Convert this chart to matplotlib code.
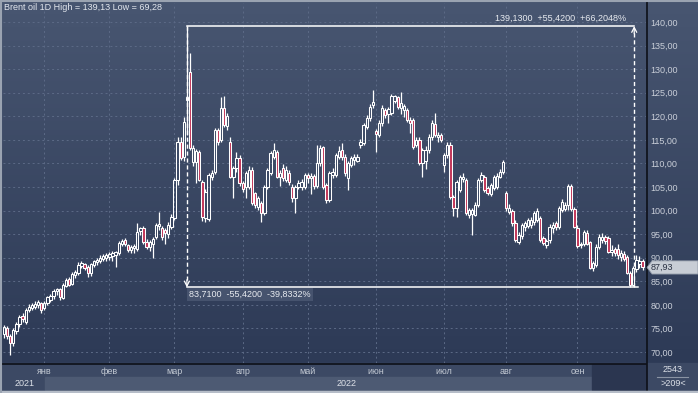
import numpy as np
import matplotlib
matplotlib.use("Agg")
import matplotlib.pyplot as plt
from matplotlib.patches import Rectangle, Polygon
from matplotlib.colors import LinearSegmentedColormap
from matplotlib import transforms

# daily candles, mid Dec 2021 .. end Sep 2022
opens = [
    73.8, 75.1, 73.3, 71.9, 74.4, 75.9, 77.6, 76.4, 78.8, 79.3, 79.6, 79.9, 80.3,
    79.3, 80.3, 81.0, 81.8, 82.9, 83.3, 81.5, 84.1, 85.5, 84.5, 86.4, 86.8, 88.3,
    88.6, 88.0, 86.8, 88.5, 89.1, 89.4, 89.8, 90.0,
    90.2, 90.3, 90.6, 91.0, 93.0, 93.7, 92.6, 91.6, 92.0, 91.8, 95.6, 96.3, 93.4,
    92.2, 92.9, 94.3, 96.8, 96.3, 95.9, 95.0, 96.6,
    98.4, 106.5, 114.5, 111.4, 123.5, 129.4, 110.2, 110.3, 112.4, 106.0, 98.4,
    98.2, 107.1, 108.2, 117.0, 115.0, 121.8, 118.0, 114.5, 107.2, 109.0, 111.2,
    105.8, 105.0, 105.0, 108.6, 103.7, 100.8, 101.6, 99.5, 105.0, 108.0, 111.4,
    112.4, 107.1, 109.0, 106.5, 108.0, 105.0, 102.7, 105.0, 105.0, 105.0,
    107.5, 106.8, 107.4, 105.2, 110.0, 113.4, 105.4, 102.3, 107.6, 107.6, 111.4,
    112.8, 111.4, 106.9, 109.7, 110.7, 110.6, 113.9, 114.3, 117.7, 119.6, 122.4,
    116.8, 116.0, 118.6, 121.3, 120.5, 120.7, 123.3, 124.0, 121.8, 121.3, 121.3,
    119.2, 119.2, 114.0, 115.0, 110.0, 110.5, 112.8, 115.6, 118.4, 115.6, 116.0,
    109.7, 111.8, 113.9, 102.9, 100.5, 104.4, 106.6, 106.5, 99.1, 99.2, 99.1,
    101.2, 106.5, 107.1, 104.8, 103.6, 104.8, 105.0, 107.2, 108.2,
    103.7, 99.7, 99.8, 97.3, 93.4, 94.5, 96.6, 96.8, 97.0, 97.6, 98.0, 98.4,
    94.1, 92.7, 93.8, 96.3, 97.3, 96.6, 100.1, 100.3, 101.2, 105.3, 100.4,
    96.3, 92.6, 93.0, 95.3, 93.3, 87.9, 88.5, 92.3, 93.8, 94.4, 94.2, 91.2,
    91.8, 91.9, 90.2, 90.8, 90.1, 86.8, 84.2, 87.6, 88.6, 89.2,
]
highs = [
    75.8, 75.6, 73.9, 75.0, 76.4, 77.8, 78.2, 79.4, 80.1, 80.4, 80.8, 81.0, 80.7,
    80.8, 81.9, 82.4, 83.4, 83.6, 83.5, 84.6, 85.6, 85.9, 86.9, 87.3, 89.0, 89.2,
    88.9, 88.4, 88.9, 89.6, 89.9, 90.6, 90.8, 91.0,
    91.2, 91.4, 91.5, 93.6, 94.0, 94.1, 93.0, 92.6, 92.9, 97.4, 96.6, 96.7, 93.9,
    93.8, 94.4, 97.4, 99.7, 96.8, 96.4, 97.6, 99.2,
    107.0, 115.5, 115.5, 119.9, 139.13, 133.4, 114.0, 113.0, 112.8, 106.5, 104.5,
    107.9, 108.5, 117.5, 117.5, 124.0, 124.2, 120.8, 115.5, 109.5, 112.5, 111.8,
    106.3, 108.3, 109.5, 109.2, 104.0, 103.0, 102.0, 105.5, 109.0, 112.6, 114.3,
    112.8, 108.7, 109.8, 109.4, 108.7, 105.6, 105.4, 106.4, 106.7, 108.0,
    108.0, 107.9, 107.8, 113.9, 113.9, 113.8, 105.8, 108.4, 109.0, 112.2, 113.6,
    114.3, 112.0, 110.5, 111.6, 112.0, 112.0, 115.2, 118.6, 120.2, 122.5, 125.6,
    117.3, 119.2, 122.3, 121.8, 122.0, 124.8, 124.6, 124.4, 125.2, 122.6, 121.8,
    119.8, 119.6, 115.5, 115.5, 113.2, 113.6, 116.2, 119.2, 120.7, 116.6, 116.4,
    112.2, 114.5, 114.5, 103.4, 106.4, 107.6, 108.0, 107.0, 100.6, 100.5, 101.8,
    107.0, 108.2, 107.6, 105.2, 105.8, 107.6, 107.9, 108.8, 110.8,
    104.1, 101.3, 100.3, 97.9, 95.4, 97.4, 97.8, 98.4, 98.6, 99.9, 100.6, 98.9,
    94.6, 94.0, 97.2, 97.6, 97.8, 101.0, 102.4, 101.8, 105.6, 105.6, 100.8,
    96.9, 93.4, 95.9, 95.8, 93.6, 89.4, 92.8, 95.0, 95.3, 94.9, 94.6, 92.6,
    92.3, 92.9, 91.6, 91.4, 90.6, 87.2, 88.2, 90.5, 90.3, 89.8,
]
lows = [
    73.0, 72.8, 69.28, 71.2, 73.8, 75.4, 76.4, 76.0, 78.4, 78.9, 79.2, 79.4, 78.2,
    78.9, 79.9, 80.6, 81.3, 82.0, 81.0, 81.2, 83.8, 84.0, 84.2, 85.6, 86.4, 87.9,
    87.4, 85.8, 86.2, 88.1, 88.5, 88.8, 89.2, 89.3,
    89.6, 89.4, 88.0, 90.5, 92.4, 92.5, 91.2, 90.9, 91.0, 91.5, 94.8, 93.0, 91.9,
    91.5, 90.0, 94.0, 95.8, 93.8, 92.8, 94.2, 96.0,
    98.0, 105.5, 110.8, 110.5, 116.0, 112.8, 109.5, 105.8, 106.2, 97.8, 97.5,
    97.8, 106.5, 107.8, 114.0, 114.5, 117.8, 117.0, 106.8, 102.7, 108.2, 105.3,
    104.0, 102.6, 104.6, 101.2, 100.5, 100.2, 97.6, 99.0, 104.6, 107.6, 111.0,
    106.8, 105.2, 106.2, 106.0, 105.4, 101.8, 99.5, 104.5, 104.3, 104.6,
    105.8, 103.5, 104.6, 104.8, 109.5, 104.6, 101.6, 101.9, 106.8, 107.2, 111.0,
    110.8, 107.4, 104.4, 109.2, 109.6, 110.2, 113.3, 113.9, 117.2, 119.0, 121.8,
    112.4, 115.5, 118.0, 119.6, 118.5, 120.3, 122.8, 121.5, 120.5, 119.8, 118.8,
    116.5, 113.0, 113.4, 109.6, 107.1, 108.8, 112.3, 115.0, 115.5, 114.6, 114.5,
    108.2, 111.2, 102.4, 98.8, 98.7, 104.0, 106.1, 99.0, 98.4, 94.8, 98.8,
    100.8, 106.0, 103.9, 103.2, 103.0, 104.3, 104.5, 106.8, 107.8,
    99.8, 99.2, 96.8, 93.3, 92.8, 94.0, 95.6, 96.3, 96.4, 97.0, 97.5, 93.3,
    92.6, 92.0, 93.2, 95.2, 95.8, 96.0, 99.6, 99.8, 100.2, 99.8, 96.2,
    92.0, 92.1, 92.4, 92.6, 87.6, 87.2, 88.0, 91.8, 93.2, 92.9, 90.9, 90.4,
    90.4, 89.7, 89.4, 89.3, 86.5, 83.71, 83.9, 87.0, 87.8, 87.4,
]
closes = [
    75.2, 73.3, 71.9, 74.6, 76.0, 77.4, 76.9, 79.0, 79.6, 79.9, 80.2, 80.5, 79.0,
    80.4, 81.6, 81.9, 83.0, 83.3, 81.6, 84.2, 85.3, 84.3, 86.6, 86.9, 88.5, 88.9,
    87.8, 86.8, 88.6, 89.3, 89.6, 90.0, 90.3, 90.5,
    90.8, 91.0, 91.2, 93.2, 93.5, 92.8, 91.6, 92.2, 92.5, 95.5, 96.2, 93.3, 92.2,
    93.4, 94.0, 97.0, 97.2, 94.3, 95.2, 97.0, 98.6,
    106.5, 114.5, 111.2, 118.8, 124.0, 113.3, 113.2, 112.6, 106.5, 98.6, 104.0,
    107.5, 108.0, 117.0, 114.5, 121.8, 118.2, 120.0, 107.2, 109.0, 111.2, 105.8,
    104.6, 108.0, 108.6, 101.6, 101.2, 102.7, 99.5, 105.0, 108.6, 112.2, 112.8,
    107.1, 108.0, 107.0, 108.6, 106.0, 102.7, 105.0, 105.8, 106.0, 107.5,
    106.8, 107.3, 105.2, 110.0, 113.3, 105.0, 102.2, 108.0, 108.1, 111.8, 112.6,
    111.4, 107.9, 110.0, 111.1, 111.4, 111.3, 114.6, 118.2, 119.6, 122.0, 123.1,
    116.3, 118.6, 121.8, 120.3, 121.6, 124.2, 124.2, 122.0, 122.8, 122.2, 119.2,
    118.5, 113.5, 115.0, 110.0, 112.8, 112.8, 115.6, 118.6, 116.0, 116.0, 115.0,
    111.8, 113.9, 102.9, 100.5, 106.1, 107.2, 107.2, 99.4, 100.1, 100.1, 101.2,
    106.5, 107.5, 104.4, 103.7, 105.4, 107.1, 107.4, 108.2, 110.3,
    100.5, 100.5, 97.3, 93.8, 94.8, 96.9, 97.3, 98.0, 98.0, 99.4, 99.8, 93.8,
    93.1, 93.6, 96.6, 97.0, 96.5, 100.5, 101.9, 101.2, 105.2, 100.3, 96.5,
    92.4, 93.0, 95.5, 93.0, 87.8, 88.9, 92.3, 94.4, 94.4, 93.5, 91.3, 91.7,
    91.0, 90.5, 90.9, 89.8, 86.8, 84.2, 87.8, 89.5, 89.3, 87.93,
]

month_starts = [13, 34, 55, 77, 98, 120, 142, 162, 185]
month_labels = ["янв", "фев", "мар", "апр", "май", "июн", "июл", "авг", "сен"]
price_ticks = [70, 75, 80, 85, 90, 95, 100, 105, 110, 115, 120, 125, 130, 135, 140]
bars_total = 2543
bars_visible = 209

# measurement tool drawn on the chart (from the Mar high to the Sep low)
range_high = 139.13
range_low = 83.71
range_left = 59
range_right = 203.3

W, H = 698, 393


def px_box(x0, y0, x1, y1):
    # pixel box, origin top-left -> figure fraction rect
    return [x0 / W, 1 - y1 / H, (x1 - x0) / W, (y1 - y0) / H]


def fmt(v, nd=2):
    return f"{v:.{nd}f}".replace(".", ",")


plt.rcParams["font.family"] = ["Liberation Sans", "DejaVu Sans"]
fig = plt.figure(figsize=(W / 100, H / 100), dpi=100)
fig.patch.set_facecolor("#3b4863")

# background: gradient panel + bottom time band
bg = fig.add_axes([0, 0, 1, 1])
bg.axis("off")
cmap = LinearSegmentedColormap.from_list("panel", ["#485671", "#2d3a56"])
grad = np.linspace(0, 1, 256).reshape(-1, 1)
bg.imshow(grad, cmap=cmap, aspect="auto", extent=(0, W, 363, 0))
bg.set_xlim(0, W)
bg.set_ylim(H, 0)
bg.add_patch(Rectangle((0, 363), W, 30, color="#3c4964"))
bg.add_patch(Rectangle((45, 377), 547, 13, color="#4d5a73"))
bg.add_patch(Rectangle((592, 364), 54, 26, color="#2b3650"))
bg.plot([0, 646], [363.5, 363.5], color="#0d1018", lw=1.2)
bg.plot([646.5, 646.5], [0, 391], color="#0d1018", lw=1.2)
bg.plot([657, 688], [377, 377], color="#8b94a4", lw=0.8)
bg.plot([0, W], [392, 392], color="#b6bdc8", lw=2.5)
bg.plot([0, W], [0.5, 0.5], color="#9aa3b1", lw=1.5)
bg.plot([0.5, 0.5], [0, H], color="#9aa3b1", lw=1.5)

ax = fig.add_axes(px_box(3, 3, 646, 363))
ax.set_facecolor("none")
for s in ax.spines.values():
    s.set_visible(False)

ax.set_xlim(-0.32, 207.1)
ax.set_ylim(67.66, 144.03)
ax.set_xticks(month_starts)
ax.set_xticklabels([])
ax.set_yticks(price_ticks)
ax.set_yticklabels([fmt(p) for p in price_ticks], color="#c9ced8", fontsize=6.5)
ax.yaxis.tick_right()
ax.tick_params(length=0)
ax.tick_params(axis="y", pad=3)
ax.grid(True, color="#5c6a86", linestyle=(0, (2, 3)), linewidth=0.7)
ax.set_axisbelow(True)

# candles
x = np.arange(len(closes))
o = np.array(opens)
c = np.array(closes)
hi = np.array(highs)
lo = np.array(lows)
up = c >= o
top = np.maximum(o, c)
bot = np.minimum(o, c)
ax.vlines(x, top, hi, color="white", lw=0.9, zorder=3)
ax.vlines(x, lo, bot, color="white", lw=0.9, zorder=3)
ax.bar(x[up], (top - bot)[up], bottom=bot[up], width=0.72,
       facecolor="none", edgecolor="white", linewidth=0.75, zorder=4)
ax.bar(x[~up], (top - bot)[~up], bottom=bot[~up], width=0.72,
       facecolor="#c2385a", edgecolor="white", linewidth=0.75, zorder=4)

# measurement rectangle
ax.plot([range_left, range_right], [range_high, range_high], color="white", lw=1.1, zorder=5)
ax.plot([range_left, range_right + 1.1], [range_low, range_low], color="white", lw=1.1, zorder=5)
ax.plot([range_left, range_left], [range_high, range_low + 1.2], color="white",
        lw=1.0, linestyle=(0, (3, 2)), zorder=5)
ax.plot([range_right, range_right], [range_low, range_high - 1.2], color="white",
        lw=1.0, linestyle=(0, (3, 2)), zorder=5)
head = dict(arrowstyle="->,head_length=0.35,head_width=0.18", color="white", lw=0.9,
            shrinkA=0, shrinkB=0)
ax.annotate("", xy=(range_left, range_low), xytext=(range_left, range_low + 1.6),
            arrowprops=head, zorder=6)
ax.annotate("", xy=(range_right, range_high), xytext=(range_right, range_high - 1.6),
            arrowprops=head, zorder=6)

diff = range_high - range_low
ax.annotate(f"{fmt(range_high, 4)}  +{fmt(diff, 4)}  +{fmt(diff / range_low * 100, 4)}%",
            xy=(range_right, range_high), xytext=(-6, 5.5), textcoords="offset points",
            ha="right", va="center", color="#e8ebf0", fontsize=6.5, zorder=6)
ax.annotate(f"{fmt(range_low, 4)}  -{fmt(diff, 4)}  -{fmt(diff / range_high * 100, 4)}%",
            xy=(range_left, range_low), xytext=(1.5, -5.3), textcoords="offset points",
            ha="left", va="center", color="#e8ebf0", fontsize=6.5, zorder=6,
            bbox=dict(boxstyle="square,pad=0.25", fc="#46536e", ec="none"))

# last price tag on the price scale
last = closes[-1]
tr = transforms.blended_transform_factory(fig.transFigure, ax.transData)
tag = Polygon([(647 / W, last), (652 / W, last + 1.4), (1.0, last + 1.4),
               (1.0, last - 1.4), (652 / W, last - 1.4)], closed=True,
              transform=tr, facecolor="#c8cdd5", edgecolor="#8c95a4", lw=0.6,
              clip_on=False, zorder=7)
ax.add_patch(tag)
ax.text(651 / W, last, fmt(last), transform=tr, ha="left", va="center",
        color="#2a3142", fontsize=6.5, zorder=8, clip_on=False)

# header
fig.text(4 / W, 1 - 8 / H,
         f"Brent oil 1D High = {fmt(max(highs))} Low = {fmt(min(lows))}",
         ha="left", va="center", color="#e3e7ee", fontsize=6.5)

# time axis
xt = ax.get_xaxis_transform()
for m, lab in zip(month_starts, month_labels):
    ax.text(m, -9 / 360, lab, transform=xt, ha="center", va="center",
            color="#c3c9d3", fontsize=6.5, clip_on=False)
fig.text(25 / W, 1 - 383 / H, "2021", ha="center", va="center", color="#dde1e8", fontsize=6.5)
fig.text(347 / W, 1 - 383 / H, "2022", ha="center", va="center", color="#dde1e8", fontsize=6.5)
fig.text(673 / W, 1 - 369 / H, str(bars_total), ha="center", va="center", color="#dde1e8", fontsize=6.5)
fig.text(673 / W, 1 - 384 / H, f">{bars_visible}<", ha="center", va="center", color="#dde1e8", fontsize=6.5)

fig.savefig("out.png", dpi=100)
